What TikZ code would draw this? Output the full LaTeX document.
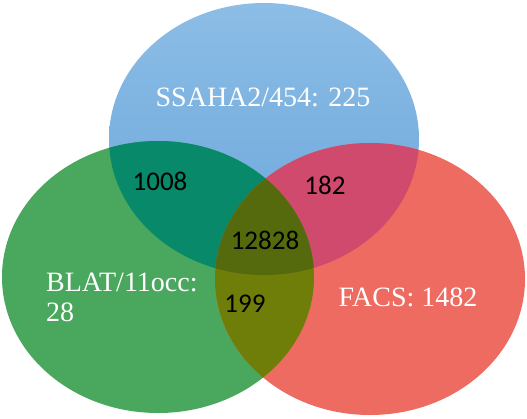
\documentclass[tikz,border=0pt]{standalone}
\usepackage{fontspec}
\setmainfont{Liberation Serif}
\newfontfamily\numfont{Carlito}
\definecolor{bluetop}{HTML}{8CBDE6}
\definecolor{bluebot}{HTML}{6AA6DA}
\definecolor{greenc}{HTML}{4AA85E}
\definecolor{redc}{HTML}{EE6B62}
\definecolor{bgc}{HTML}{07896A}
\definecolor{brc}{HTML}{D04A6E}
\definecolor{grc}{HTML}{6E7E08}
\definecolor{allc}{HTML}{546A0C}
\tikzset{
  lbl/.style={text=white, font=\fontsize{28}{30}\selectfont, inner sep=0pt},
  num/.style={text=black, font=\numfont\fontsize{27}{29}\selectfont, inner sep=0pt},
}
\begin{document}
\begin{tikzpicture}[x=1pt,y=-1pt]
\useasboundingbox (0,0) rectangle (527,418);
\fill[white] (0,0) rectangle (527,418);
\def\blueE{(264,139) ellipse [x radius=155pt, y radius=136pt]}
\def\greenE{(158,277) ellipse [x radius=156pt, y radius=136pt]}
\def\redE{(370,279) ellipse [x radius=155pt, y radius=136pt]}
% base ellipses
\shade[top color=bluetop, bottom color=bluebot] \blueE;
\fill[greenc] \greenE;
\fill[redc] \redE;
% pairwise overlaps
\begin{scope}
  \clip \blueE;
  \fill[bgc] \greenE;
  \fill[brc] \redE;
\end{scope}
\begin{scope}
  \clip \greenE;
  \fill[grc] \redE;
\end{scope}
\begin{scope}
  \clip \blueE;
  \clip \greenE;
  \fill[allc] \redE;
\end{scope}
% labels
\node[lbl] (ssaha) at (263,97) {SSAHA2/454: 225};
\node[lbl, anchor=west, align=left] (blat) at (46,297) {BLAT/11occ:\\28};
\node[lbl] (facs) at (408,297) {FACS: 1482};
\node[num] (n1008) at (160,181) {1008};
\node[num] (n182) at (325,185) {182};
\node[num] (n12828) at (265,240) {12828};
\node[num] (n199) at (245,304) {199};
\end{tikzpicture}
\end{document}
